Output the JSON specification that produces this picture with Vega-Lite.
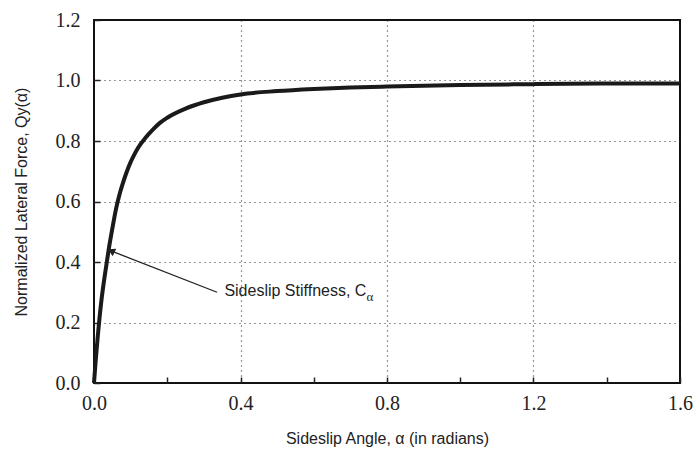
{
  "$schema": "https://vega.github.io/schema/vega-lite/v6.json",
  "width": 586,
  "height": 363,
  "autosize": "none",
  "padding": {"left": 94, "top": 20, "right": 19, "bottom": 70},
  "background": "white",
  "config": {
    "view": {"stroke": "#111", "strokeWidth": 2},
    "axis": {"domain": false}
  },
  "datasets": {
    "curve": [
      {"alpha": 0, "q": 0},
      {"alpha": 0.005, "q": 0.08},
      {"alpha": 0.01, "q": 0.15},
      {"alpha": 0.02, "q": 0.27},
      {"alpha": 0.03, "q": 0.36},
      {"alpha": 0.04, "q": 0.44},
      {"alpha": 0.05, "q": 0.51},
      {"alpha": 0.06, "q": 0.575},
      {"alpha": 0.07, "q": 0.625},
      {"alpha": 0.08, "q": 0.665},
      {"alpha": 0.09, "q": 0.7},
      {"alpha": 0.1, "q": 0.73},
      {"alpha": 0.11, "q": 0.755},
      {"alpha": 0.12, "q": 0.777},
      {"alpha": 0.14, "q": 0.81},
      {"alpha": 0.16, "q": 0.837},
      {"alpha": 0.18, "q": 0.86},
      {"alpha": 0.2, "q": 0.877},
      {"alpha": 0.25, "q": 0.907},
      {"alpha": 0.3, "q": 0.928},
      {"alpha": 0.35, "q": 0.943},
      {"alpha": 0.4, "q": 0.954},
      {"alpha": 0.5, "q": 0.965},
      {"alpha": 0.6, "q": 0.972},
      {"alpha": 0.7, "q": 0.977},
      {"alpha": 0.8, "q": 0.98},
      {"alpha": 1.0, "q": 0.985},
      {"alpha": 1.2, "q": 0.988},
      {"alpha": 1.4, "q": 0.99},
      {"alpha": 1.6, "q": 0.99}
    ],
    "arrow": [{"x1": 0.336, "y1": 0.3, "x2": 0.05, "y2": 0.435}],
    "label": [{"x": 0.356, "y": 0.304, "t": "Sideslip Stiffness, C", "s": "α", "xs": 0.744, "ys": 0.284}]
  },
  "layer": [
    {
      "data": {"name": "curve"},
      "mark": {"type": "line", "stroke": "#1a1a1a", "strokeWidth": 4, "interpolate": "monotone"},
      "encoding": {
        "x": {
          "field": "alpha", "type": "quantitative",
          "scale": {"domain": [0, 1.6], "nice": false},
          "axis": {
            "values": [0, 0.2, 0.4, 0.6, 0.8, 1.0, 1.2, 1.4, 1.6],
            "labelExpr": "round(datum.value*10) % 4 == 0 ? format(datum.value, '.1f') : ''",
            "labelFont": "Liberation Serif", "labelFontSize": 20, "labelColor": "#222",
            "labelPadding": 16, "labelFlush": false, "labelOverlap": false,
            "tickSize": -6, "tickColor": "#222", "tickWidth": 1.5,
            "grid": true, "gridColor": "#333", "gridDash": [1, 4], "gridWidth": 1.2,
            "gridOpacity": {"condition": {"test": "round(datum.value*10) % 4 == 0 && datum.value > 0 && datum.value < 1.6", "value": 1}, "value": 0},
            "title": "Sideslip Angle, α (in radians)",
            "titleFont": "Liberation Sans", "titleFontSize": 16, "titleFontWeight": "normal", "titleColor": "#222",
            "titlePadding": 17
          }
        },
        "y": {
          "field": "q", "type": "quantitative",
          "scale": {"domain": [0, 1.2], "nice": false},
          "axis": {
            "values": [0, 0.1, 0.2, 0.3, 0.4, 0.5, 0.6, 0.7, 0.8, 0.9, 1.0, 1.1, 1.2],
            "labelExpr": "round(datum.value*10) % 2 == 0 ? format(datum.value, '.1f') : ''",
            "labelFont": "Liberation Serif", "labelFontSize": 20, "labelColor": "#222",
            "labelPadding": 20, "labelFlush": false, "labelOverlap": false,
            "tickSize": -6, "tickColor": "#222", "tickWidth": 1.5,
            "grid": true, "gridColor": "#333", "gridDash": [1, 4], "gridWidth": 1.2,
            "gridOpacity": {"condition": {"test": "round(datum.value*10) % 2 == 0 && datum.value > 0 && datum.value < 1.2", "value": 1}, "value": 0},
            "title": "Normalized Lateral Force, Qy(α)",
            "titleFont": "Liberation Sans", "titleFontSize": 16, "titleFontWeight": "normal", "titleColor": "#222",
            "titlePadding": 26
          }
        }
      }
    },
    {
      "data": {"name": "arrow"},
      "mark": {"type": "rule", "stroke": "#222", "strokeWidth": 1.3},
      "encoding": {
        "x": {"field": "x1", "type": "quantitative"},
        "y": {"field": "y1", "type": "quantitative"},
        "x2": {"field": "x2"},
        "y2": {"field": "y2"}
      }
    },
    {
      "data": {"name": "arrow"},
      "mark": {"type": "point", "shape": "triangle", "filled": true, "color": "#222", "size": 70, "angle": 296, "opacity": 1},
      "encoding": {
        "x": {"field": "x2", "type": "quantitative"},
        "y": {"field": "y2", "type": "quantitative"}
      }
    },
    {
      "data": {"name": "label"},
      "mark": {"type": "text", "align": "left", "baseline": "middle", "font": "Liberation Sans", "fontSize": 16, "color": "#222"},
      "encoding": {
        "x": {"field": "x", "type": "quantitative"},
        "y": {"field": "y", "type": "quantitative"},
        "text": {"field": "t"}
      }
    },
    {
      "data": {"name": "label"},
      "mark": {"type": "text", "align": "left", "baseline": "middle", "font": "Liberation Serif", "fontSize": 13, "color": "#222"},
      "encoding": {
        "x": {"field": "xs", "type": "quantitative"},
        "y": {"field": "ys", "type": "quantitative"},
        "text": {"field": "s"}
      }
    }
  ]
}
